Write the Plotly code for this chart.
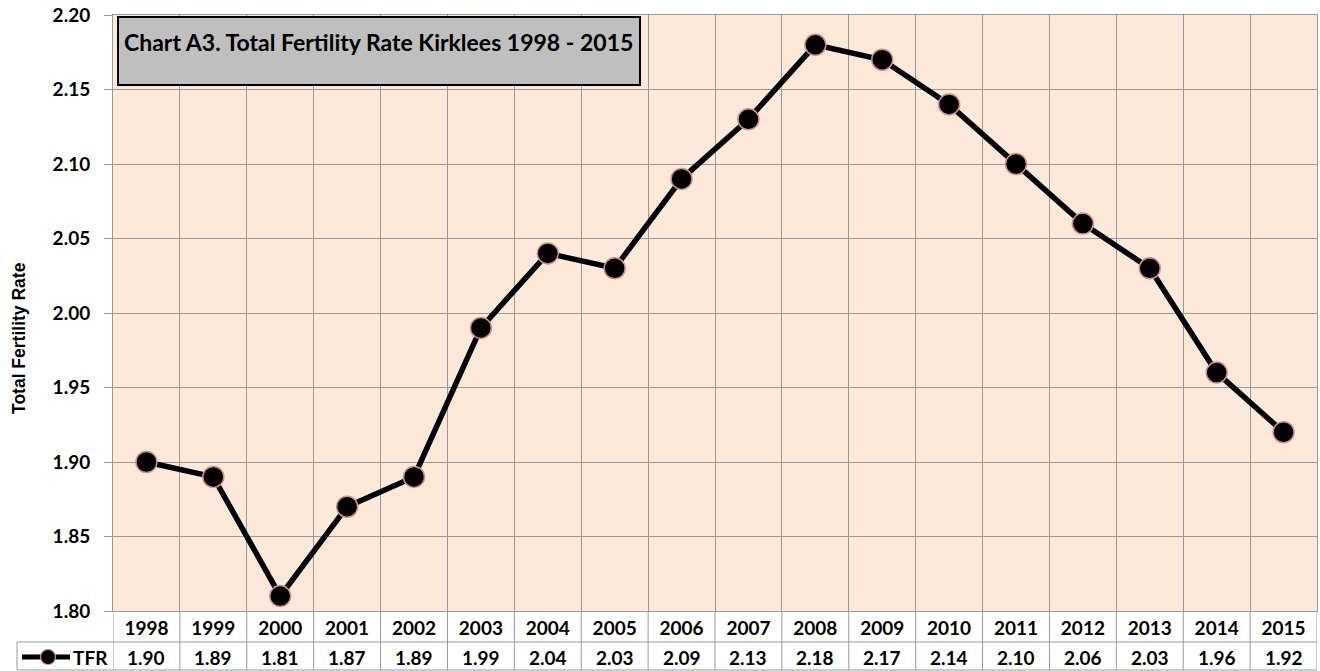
import plotly.graph_objects as go

years = ["1998", "1999", "2000", "2001", "2002", "2003", "2004", "2005", "2006",
         "2007", "2008", "2009", "2010", "2011", "2012", "2013", "2014", "2015"]
tfr = [1.90, 1.89, 1.81, 1.87, 1.89, 1.99, 2.04, 2.03, 2.09,
       2.13, 2.18, 2.17, 2.14, 2.10, 2.06, 2.03, 1.96, 1.92]
y_ticks = [1.80, 1.85, 1.90, 1.95, 2.00, 2.05, 2.10, 2.15, 2.20]
series_name = "TFR"
title_text = "Chart A3. Total Fertility Rate Kirklees 1998 - 2015"
y_title = "Total Fertility Rate"

W, H = 1320, 671
PL, PT, PR, PB = 113, 15, 1317, 611          # plot area in page pixels
L, T, R, B = PL, PT, W - PR, H - PB
pw, ph = W - L - R, H - T - B

def px_x(x):
    return (x - PL) / pw

def px_y(y):
    return 1 - (y - PT) / ph

FONT = "Lato"
GRID = "#9A9A9A"
MARKER_EDGE = "#D09090"

fig = go.Figure()
fig.add_trace(go.Scatter(
    x=years, y=tfr, name=series_name, mode="lines+markers",
    line=dict(color="black", width=5.5),
    marker=dict(size=21, color="black", line=dict(color=MARKER_EDGE, width=1.5)),
    showlegend=False,
))

shapes = []
# title box
shapes.append(dict(type="rect", xref="paper", yref="paper",
                   x0=px_x(118), x1=px_x(640), y0=px_y(85), y1=px_y(17),
                   fillcolor="#BFBFBF", line=dict(color="black", width=2), layer="above"))
# table lines
row_mid = px_y(642)
row_bot = px_y(670)
shapes.append(dict(type="line", xref="paper", yref="paper", x0=px_x(17), x1=1,
                   y0=row_mid, y1=row_mid, line=dict(color=GRID, width=1)))
shapes.append(dict(type="line", xref="paper", yref="paper", x0=px_x(17), x1=1,
                   y0=row_bot, y1=row_bot, line=dict(color=GRID, width=1)))
shapes.append(dict(type="line", xref="paper", yref="paper", x0=px_x(17), x1=px_x(17),
                   y0=row_mid, y1=row_bot, line=dict(color=GRID, width=1)))
for i in range(len(years) + 1):
    shapes.append(dict(type="line", xref="x", yref="paper", x0=i - 0.5, x1=i - 0.5,
                       y0=0, y1=row_bot, line=dict(color=GRID, width=1)))
# legend key in table
ky = px_y(657)
shapes.append(dict(type="line", xref="paper", yref="paper", x0=px_x(22), x1=px_x(70),
                   y0=ky, y1=ky, line=dict(color="black", width=5)))
shapes.append(dict(type="circle", xref="paper", yref="paper",
                   x0=px_x(40.5), x1=px_x(55.5), y0=px_y(664.5), y1=px_y(649.5),
                   fillcolor="black", line=dict(color=MARKER_EDGE, width=1.2)))

annotations = [
    dict(text=f"<b>{title_text}</b>", xref="paper", yref="paper",
         x=px_x(122), y=px_y(42), xanchor="left", yanchor="middle", showarrow=False,
         font=dict(family=FONT, size=23, color="black")),
    dict(text=f"<b>{y_title}</b>", xref="paper", yref="paper",
         x=px_x(19), y=px_y(338), xanchor="center", yanchor="middle", showarrow=False,
         textangle=-90, font=dict(family="Liberation Sans", size=17.5, color="black")),
    dict(text=f"<b>{series_name}</b>", xref="paper", yref="paper",
         x=px_x(71), y=px_y(657), xanchor="left", yanchor="middle", showarrow=False,
         font=dict(family=FONT, size=19, color="black")),
]
for i, v in enumerate(tfr):
    annotations.append(dict(text=f"<b>{v:.2f}</b>", xref="x", yref="paper",
                            x=i, y=px_y(657), xanchor="center", yanchor="middle",
                            showarrow=False, font=dict(family=FONT, size=19, color="black")))

fig.update_layout(
    width=W, height=H,
    margin=dict(l=L, r=R, t=T, b=B, autoexpand=False),
    paper_bgcolor="white",
    plot_bgcolor="#FDE9D9",
    font=dict(family=FONT, color="black"),
    shapes=shapes,
    annotations=annotations,
    showlegend=False,
)
fig.update_xaxes(type="category", tickson="boundaries", showgrid=True, gridcolor=GRID,
                 gridwidth=1, ticks="", showline=True, linecolor=GRID, mirror=True,
                 tickfont=dict(family=FONT, size=19, color="black"),
                 tickvals=years, ticktext=[f"<b>{y}</b>" for y in years],
                 range=[-0.5, len(years) - 0.5], ticklabelstandoff=0)
fig.update_yaxes(range=[1.80, 2.20], showgrid=True,
                 gridcolor=GRID, gridwidth=1, ticks="outside", ticklen=8, tickcolor=GRID,
                 showline=True, linecolor=GRID, mirror=True, zeroline=False,
                 tickfont=dict(family=FONT, size=19, color="black"),
                 tickvals=y_ticks, ticktext=[f"<b>{v:.2f}</b>" for v in y_ticks],
                 ticklabelstandoff=10, ticklabeloverflow="allow")

fig.write_html("out.html", config={"displayModeBar": False},
               post_script="document.body.style.margin='0px';document.body.style.overflow='hidden';")
